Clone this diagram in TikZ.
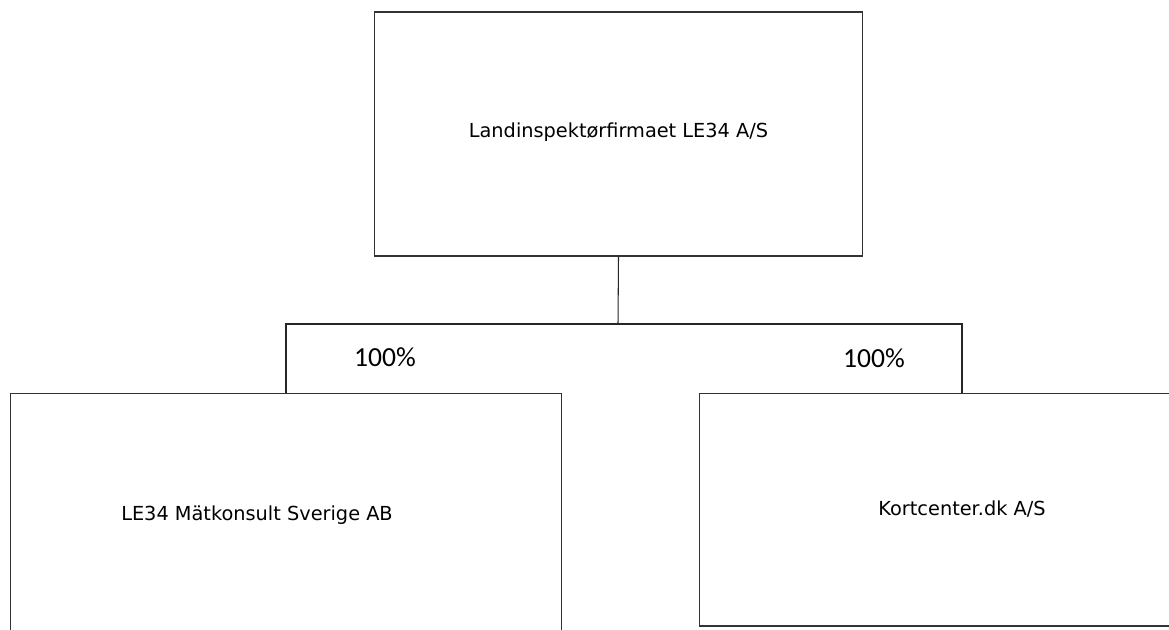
\documentclass[tikz,border=0pt]{standalone}
\usepackage{fontspec}
\newfontfamily\orgfont{DejaVu Sans}
\newfontfamily\pctfont{Carlito}
\usetikzlibrary{positioning}

\begin{document}
\begin{tikzpicture}[
    x=0.02cm, y=-0.02cm,
    every node/.style={font=\orgfont\fontsize{11}{13}\selectfont},
    orgbox/.style={draw=black!80, line width=0.6pt, fill=white, inner sep=0pt, text centered},
    pctlabel/.style={font=\pctfont\fontsize{15.7}{18}\selectfont},
    treeline/.style={draw=black!85, line width=0.6pt},
]
\useasboundingbox (0,0) rectangle (1169,629);
\clip (0,0) rectangle (1169,629);
\fill[white] (0,0) rectangle (1169,629);

% ---- Parent ----
\node[orgbox, minimum width=9.78cm, minimum height=4.88cm] (holding) at (618.5,134) {\raisebox{4pt}{Landinspektørfirmaet LE34 A/S}};

% ---- Subsidiaries ----
\node[orgbox, minimum width=11.04cm, minimum height=4.88cm,
      label={[xshift=-0.58cm]center:LE34 Mätkonsult Sverige AB}] (sweden) at (286,515) {};
\node[orgbox, minimum width=10.52cm, minimum height=4.66cm] (kortcenter) at (962,509.5) {Kortcenter.dk A/S};

% ---- Ownership lines ----
\coordinate (fork) at (618,324);
\draw[treeline] (holding.south) -- (fork);
\draw[treeline] (fork) -| (sweden.north);
\draw[treeline] (fork) -| (kortcenter.north);

\node[pctlabel] (pctsweden) at (385,357) {100\%};
\node[pctlabel] (pctkort) at (874,358) {100\%};

\end{tikzpicture}
\end{document}
